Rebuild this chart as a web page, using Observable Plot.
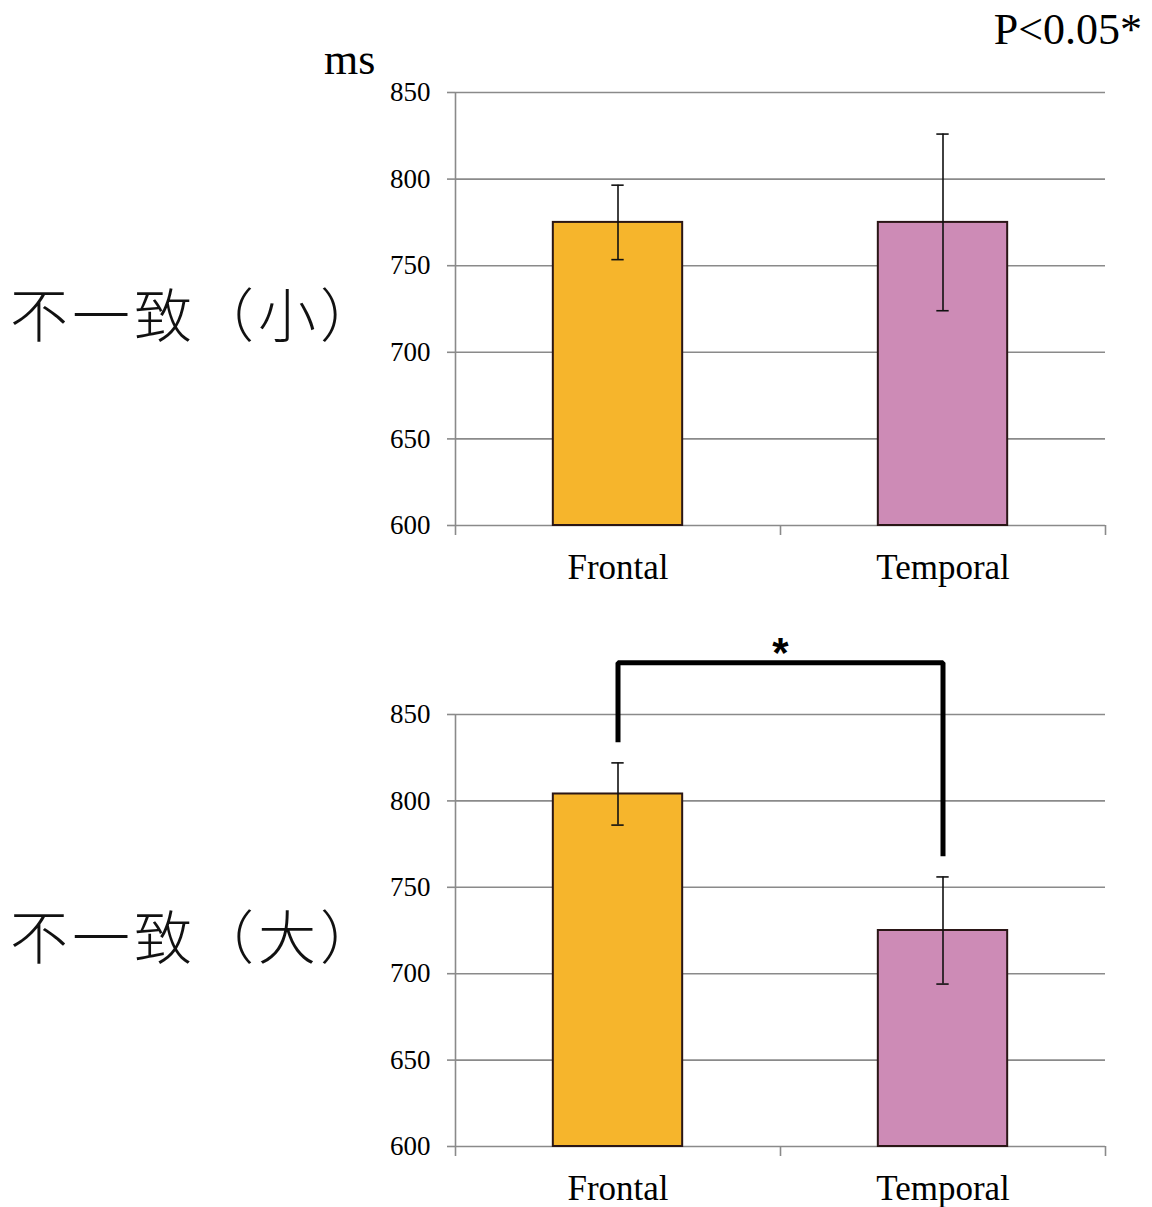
<!DOCTYPE html>
<html>
<head>
<meta charset="utf-8">
<script src="https://cdn.jsdelivr.net/npm/d3@7"></script>
<script src="https://cdn.jsdelivr.net/npm/@observablehq/plot@0.6"></script>
<style>
  html, body { margin: 0; padding: 0; background: #fff; }
  #chart { position: relative; width: 1152px; height: 1207px; overflow: hidden; }
  .panel { position: absolute; left: 0; }
  .serif { position: absolute; font-family: "Liberation Serif", "Times New Roman", serif; color: #000; white-space: nowrap; }
  .cond {
    position: absolute; left: 10px;
    font-family: "Noto Sans CJK JP", "Noto Sans CJK SC", sans-serif; font-weight: 300;
    font-size: 58px; line-height: 64px; letter-spacing: 4px; color: #111; white-space: nowrap;
    text-spacing-trim: space-all; font-feature-settings: "chws" 0, "halt" 0, "palt" 0;
  }
</style>
</head>
<body>
<div id="chart"></div>
<script>
// Reaction times (ms) by electrode region, two incongruent conditions
const conditions = ["不一致（小）", "不一致（大）"];
const regions = ["Frontal", "Temporal"];
const smallMeans = [775, 775];
const smallErrors = [21.5, 51];
const largeMeans = [804, 725];
const largeErrors = [18, 31];
const yTicks = [600, 650, 700, 750, 800, 850];
const regionColors = ["#F6B52C", "#CD8BB6"];
const unitLabel = "ms";
const pLabel = "P<0.05*";
// significance bracket between Frontal and Temporal (large condition), in ms
const bracketLeftEnd = 834;
const bracketTop = 880;
const bracketRightEnd = 768;
const bracketMark = "*";

const serif = "'Liberation Serif', 'Times New Roman', serif";
const gray = "#8a8a8a";
const barHalf = 0.199;   // half bar width in band units
const capHalf = 0.019;   // half cap width in band units

function panel(means, errors, {height, marginTop, marginBottom, bracket = false}) {
  const data = regions.map((r, i) => ({
    region: r, i, mean: means[i], lo: means[i] - errors[i], hi: means[i] + errors[i], color: regionColors[i]
  }));
  const marks = [
    Plot.ruleY(yTicks, {stroke: gray, strokeWidth: 1.6}),
    Plot.axisY({ticks: yTicks, tickSize: 8, tickPadding: 17, stroke: gray, strokeWidth: 1.6, fontSize: 27, fontFamily: serif, tickFormat: d => String(d), label: null}),
    Plot.ruleX([0], {stroke: gray, strokeWidth: 1.6}),
    Plot.axisX({ticks: [0, 1, 2], tickSize: 10, stroke: gray, strokeWidth: 1.6, tickFormat: () => "", label: null}),
    Plot.axisX({ticks: regions.map((_, i) => i + 0.5), tickSize: 0, tickPadding: 29, fontSize: 35, fontFamily: serif, tickFormat: v => regions[Math.floor(v)], label: null}),
    Plot.rectY(data, {x1: d => d.i + 0.5 - barHalf, x2: d => d.i + 0.5 + barHalf, y1: yTicks[0], y2: "mean", fill: "color", stroke: "#2a1616", strokeWidth: 2}),
    Plot.ruleX(data, {x: d => d.i + 0.5, y1: "lo", y2: "hi", stroke: "#111", strokeWidth: 1.6}),
    Plot.ruleY(data, {y: "hi", x1: d => d.i + 0.5 - capHalf, x2: d => d.i + 0.5 + capHalf, stroke: "#111", strokeWidth: 1.6}),
    Plot.ruleY(data, {y: "lo", x1: d => d.i + 0.5 - capHalf, x2: d => d.i + 0.5 + capHalf, stroke: "#111", strokeWidth: 1.6})
  ];
  if (bracket) {
    const path = [
      {x: 0.5, y: bracketLeftEnd}, {x: 0.5, y: bracketTop},
      {x: 1.5, y: bracketTop}, {x: 1.5, y: bracketRightEnd}
    ];
    marks.push(
      Plot.line(path, {x: "x", y: "y", stroke: "#000", strokeWidth: 5, strokeLinejoin: "miter", strokeLinecap: "butt", clip: false}),
      Plot.text([bracketMark], {x: () => 1, y: () => bracketTop, text: d => d, dy: -9, fontSize: 42, fontWeight: "bold", fontFamily: "Liberation Sans, Arial, sans-serif", lineAnchor: "middle"})
    );
  }
  return Plot.plot({
    width: 1152, height, marginLeft: 455, marginRight: 47, marginTop, marginBottom,
    x: {type: "linear", domain: [0, 2]},
    y: {domain: [600, 850]},
    color: {type: "identity"},
    style: {fontFamily: serif, color: "#000", background: "transparent", overflow: "visible"},
    marks
  });
}

const chart = document.getElementById("chart");

const upperPanel = panel(smallMeans, smallErrors, {height: 600, marginTop: 92, marginBottom: 75});
upperPanel.classList.add("panel"); upperPanel.style.top = "0px";
chart.appendChild(upperPanel);

const lowerPanel = panel(largeMeans, largeErrors, {height: 607, marginTop: 114, marginBottom: 61, bracket: true});
lowerPanel.classList.add("panel"); lowerPanel.style.top = "600px";
chart.appendChild(lowerPanel);

function label(text, cls, css) {
  const el = document.createElement("div");
  el.className = cls;
  el.textContent = text;
  Object.assign(el.style, css);
  chart.appendChild(el);
}
label(unitLabel, "serif", {left: "324px", top: "38px", fontSize: "44px", lineHeight: "44px"});
label(pLabel, "serif", {right: "10px", top: "8px", fontSize: "44px", lineHeight: "44px"});
label(conditions[0], "cond", {top: "280px"});
label(conditions[1], "cond", {top: "902px"});
</script>
</body>
</html>
